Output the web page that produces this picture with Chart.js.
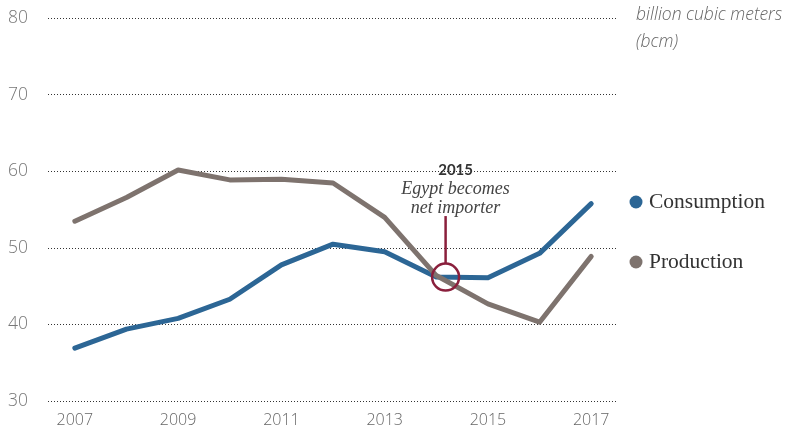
<!DOCTYPE html>
<html>
<head>
<meta charset="utf-8">
<script src="https://cdn.jsdelivr.net/npm/chart.js@4"></script>
<style>
  html, body { margin: 0; padding: 0; background: #fff; }
  #wrap { position: relative; width: 800px; height: 432px; }
</style>
</head>
<body>
<div id="wrap"><canvas id="gasChart" width="800" height="432"></canvas></div>
<script>
// data
const years = [2007, 2008, 2009, 2010, 2011, 2012, 2013, 2014, 2015, 2016, 2017];
const consumption = [36.9, 39.4, 40.8, 43.3, 47.8, 50.5, 49.5, 46.2, 46.1, 49.3, 55.8];
const production = [53.5, 56.6, 60.2, 58.9, 59.0, 58.5, 54.0, 46.4, 42.7, 40.3, 48.9];
const xTicks = [2007, 2009, 2011, 2013, 2015, 2017];
const yTicks = [30, 40, 50, 60, 70, 80];

const blue = '#2c6695';
const brown = '#7e736e';
const maroon = '#8a1f3c';

// the "net importer" marker sits where the two lines cross
const crossing = { x: 2014.18, y: 46.2 };

const toPoints = vals => years.map((yr, i) => ({ x: yr, y: vals[i] }));

const annotations = {
    id: 'annotations',
    afterDatasetsDraw(chart) {
        const ctx = chart.ctx;
        const xs = chart.scales.x, ys = chart.scales.y;
        const cx = xs.getPixelForValue(crossing.x);
        const cy = ys.getPixelForValue(crossing.y);
        ctx.save();
        ctx.strokeStyle = maroon;
        ctx.lineWidth = 2.5;
        ctx.beginPath();
        ctx.arc(cx, cy, 13.5, 0, Math.PI * 2);
        ctx.stroke();
        ctx.beginPath();
        ctx.moveTo(cx, cy - 13.5);
        ctx.lineTo(cx, cy - 61);
        ctx.stroke();

        ctx.textAlign = 'center';
        ctx.textBaseline = 'middle';
        ctx.fillStyle = '#333';
        ctx.font = 'bold 15px Lato';
        ctx.fillText('2015', cx + 10, 170);
        ctx.fillStyle = '#444';
        ctx.font = 'italic 18px "Liberation Serif"';
        ctx.fillText('Egypt becomes', cx + 10, 189);
        ctx.fillText('net importer', cx + 10, 208);
        ctx.restore();
    },
    afterDraw(chart) {
        const ctx = chart.ctx;
        ctx.save();
        // unit label
        ctx.fillStyle = '#666';
        ctx.font = 'italic 300 17.5px "Open Sans"';
        ctx.textAlign = 'left';
        ctx.textBaseline = 'middle';
        ctx.fillText('billion cubic meters', 636, 15);
        ctx.fillText('(bcm)', 636, 42);
        // legend
        const items = [['Consumption', blue, 202], ['Production', brown, 262]];
        items.forEach(([label, color, y]) => {
            ctx.fillStyle = color;
            ctx.beginPath();
            ctx.arc(636, y, 6.5, 0, Math.PI * 2);
            ctx.fill();
            ctx.fillStyle = '#333';
            ctx.font = '21.5px "Liberation Serif"';
            ctx.fillText(label, 649, y);
        });
        ctx.restore();
    }
};

new Chart(document.getElementById('gasChart'), {
    type: 'line',
    data: {
        datasets: [
            { label: 'Production', data: toPoints(production), borderColor: brown, borderWidth: 5, pointRadius: 0, tension: 0, borderJoinStyle: 'round', borderCapStyle: 'round' },
            { label: 'Consumption', data: toPoints(consumption), borderColor: blue, borderWidth: 5, pointRadius: 0, tension: 0, borderJoinStyle: 'round', borderCapStyle: 'round' }
        ]
    },
    options: {
        responsive: false,
        animation: false,
        layout: { padding: { left: 8, right: 184, top: 18, bottom: 0 } },
        plugins: { legend: { display: false }, tooltip: { enabled: false } },
        scales: {
            x: {
                type: 'linear',
                min: 2006.48,
                max: 2017.48,
                afterBuildTicks: scale => { scale.ticks = xTicks.map(v => ({ value: v })); },
                afterFit: scale => { scale.height = 31; },
                grid: { display: false, drawTicks: false },
                border: { display: false },
                ticks: {
                    autoSkip: false,
                    maxRotation: 0,
                    padding: 10,
                    color: '#666',
                    font: { family: 'Open Sans', size: 16, weight: 300 },
                    callback: v => String(v)
                }
            },
            y: {
                min: 30,
                max: 80,
                afterBuildTicks: scale => { scale.ticks = yTicks.map(v => ({ value: v })); },
                afterFit: scale => { scale.width = 40; },
                grid: { color: '#333', lineWidth: 1, drawTicks: false },
                border: { display: false, dash: [1, 2] },
                ticks: {
                    crossAlign: 'far',
                    padding: 8,
                    color: '#777',
                    font: { family: 'Open Sans', size: 17.5, weight: 300 }
                }
            }
        }
    },
    plugins: [annotations]
});
</script>
</body>
</html>
